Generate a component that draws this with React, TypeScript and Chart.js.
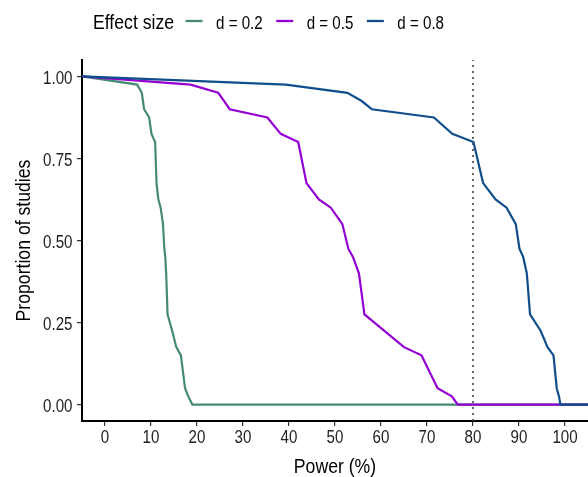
import React, { useEffect, useRef } from "react";
import { Chart, registerables } from "chart.js";

Chart.register(...registerables);

const seriesNames = ["d = 0.2", "d = 0.5", "d = 0.8"];
const seriesColors = ["#458B74", "#9400D3", "#104E8B"];

const greenX = [-5, 7, 8, 8.5, 9.6, 10.1, 10.9, 11.2, 11.6, 12.1, 12.6, 12.9, 13.1, 13.3, 13.6, 14.6, 15.5, 16.5, 17.4, 18.1, 19, 106];
const greenY = [1, 0.975, 0.95, 0.9, 0.875, 0.825, 0.8, 0.675, 0.625, 0.6, 0.55, 0.475, 0.45, 0.4, 0.275, 0.225, 0.175, 0.15, 0.05, 0.025, 0, 0];

const purpleX = [-5, 18.6, 24.6, 25.9, 27.1, 35.3, 38.2, 42, 43.8, 46.5, 49.1, 51.6, 52.9, 53.9, 55.2, 56.4, 65, 68.8, 72.3, 75.4, 76.7, 106];
const purpleY = [1, 0.975, 0.95, 0.925, 0.9, 0.875, 0.825, 0.8, 0.675, 0.625, 0.6, 0.55, 0.475, 0.45, 0.4, 0.275, 0.175, 0.15, 0.05, 0.025, 0, 0];

const blueX = [-5, 39.3, 52.7, 55.8, 58, 71.5, 75.5, 80.1, 82.2, 84.9, 87.3, 89.3, 90.1, 90.9, 91.7, 92.4, 94.7, 96.2, 97.5, 98.2, 98.7, 99, 106];
const blueY = [1, 0.975, 0.95, 0.925, 0.9, 0.875, 0.825, 0.8, 0.675, 0.625, 0.6, 0.55, 0.475, 0.45, 0.4, 0.275, 0.225, 0.175, 0.15, 0.05, 0.025, 0, 0];

const xTicks = [0, 10, 20, 30, 40, 50, 60, 70, 80, 90, 100];
const yTicks = [0, 0.25, 0.5, 0.75, 1];
const yTickLabels = ["0.00", "0.25", "0.50", "0.75", "1.00"];
const vlineX = 80;

const legendTitle = "Effect size";
const xTitle = "Power (%)";
const yTitle = "Proportion of studies";

const FONT = "'Liberation Sans', Arial, sans-serif";
const SQUEEZE = 0.84;

const zip = (xs: number[], ys: number[]) => xs.map((x, i) => ({ x, y: ys[i] }));

function squeezedText(ctx: any, text: string, x: number, y: number, align: string, rot = 0) {
  ctx.save();
  ctx.translate(x, y);
  if (rot) ctx.rotate(rot);
  ctx.scale(SQUEEZE, 1);
  ctx.textAlign = align;
  ctx.textBaseline = "alphabetic";
  ctx.fillText(text, 0, 0);
  ctx.restore();
}

const textPlugin = {
  id: "ggText",
  afterDraw(chart: any) {
    const ctx = chart.ctx;
    const xs = chart.scales.x;
    const ys = chart.scales.y;
    const area = chart.chartArea;
    ctx.save();
    // tick labels
    ctx.fillStyle = "#222";
    ctx.font = `18px ${FONT}`;
    xTicks.forEach((v) => {
      squeezedText(ctx, String(v), xs.getPixelForValue(v), area.bottom + 22, "center");
    });
    yTicks.forEach((v, i) => {
      squeezedText(ctx, yTickLabels[i], area.left - 9.5, ys.getPixelForValue(v) + 7.5, "right");
    });
    // axis titles
    ctx.fillStyle = "#000";
    ctx.font = `21px ${FONT}`;
    squeezedText(ctx, xTitle, (area.left + area.right) / 2, 473, "center");
    squeezedText(ctx, yTitle, 30, (area.top + area.bottom) / 2, "center", -Math.PI / 2);
    // legend
    let x = 93;
    const base = 29;
    squeezedText(ctx, legendTitle, x, base, "left");
    x += ctx.measureText(legendTitle).width * SQUEEZE + 11.5;
    ctx.font = `18px ${FONT}`;
    seriesNames.forEach((name, i) => {
      ctx.strokeStyle = seriesColors[i];
      ctx.lineWidth = 2.3;
      ctx.beginPath();
      ctx.moveTo(x, 21);
      ctx.lineTo(x + 17, 21);
      ctx.stroke();
      x += 17 + 13.5;
      squeezedText(ctx, name, x, base, "left");
      x += ctx.measureText(name).width * SQUEEZE + 13.5;
    });
    ctx.restore();
  },
};

export default function App() {
  const ref = useRef<HTMLCanvasElement>(null);
  useEffect(() => {
    document.body.style.margin = "0";
    const yMin = -0.05;
    const yMax = 1.05;
    const gridOpts = {
      display: true,
      drawOnChartArea: false,
      drawTicks: true,
      tickLength: 5,
      color: "#333",
      lineWidth: 1.2,
    };
    const chart = new Chart(ref.current!, {
      type: "line",
      data: {
        datasets: [
          {
            label: "vline",
            data: [{ x: vlineX, y: yMin }, { x: vlineX, y: yMax }],
            borderColor: "#444",
            borderWidth: 1.6,
            borderDash: [2, 4],
            pointRadius: 0,
            order: 0,
          },
          {
            label: seriesNames[2],
            data: zip(blueX, blueY),
            borderColor: seriesColors[2],
            borderWidth: 2.2,
            pointRadius: 0,
            tension: 0,
            order: 1,
          },
          {
            label: seriesNames[1],
            data: zip(purpleX, purpleY),
            borderColor: seriesColors[1],
            borderWidth: 2.2,
            pointRadius: 0,
            tension: 0,
            order: 2,
          },
          {
            label: seriesNames[0],
            data: zip(greenX, greenY),
            borderColor: seriesColors[0],
            borderWidth: 2.2,
            pointRadius: 0,
            tension: 0,
            order: 3,
          },
        ],
      },
      options: {
        responsive: false,
        animation: false,
        layout: { padding: { top: 60, left: 0, right: 0, bottom: 0 } },
        plugins: { legend: { display: false }, tooltip: { enabled: false } },
        scales: {
          x: {
            type: "linear",
            min: -5,
            max: 105,
            afterBuildTicks: (s: any) => {
              s.ticks = xTicks.map((v) => ({ value: v }));
            },
            afterFit: (s: any) => {
              s.height = 56;
            },
            ticks: { display: false },
            grid: gridOpts,
            border: { display: true, color: "#000", width: 2 },
            title: { display: false },
          },
          y: {
            type: "linear",
            min: yMin,
            max: yMax,
            afterBuildTicks: (s: any) => {
              s.ticks = yTicks.map((v) => ({ value: v }));
            },
            afterFit: (s: any) => {
              s.width = 82;
            },
            ticks: { display: false },
            grid: gridOpts,
            border: { display: true, color: "#000", width: 2 },
            title: { display: false },
          },
        },
      },
      plugins: [textPlugin],
    } as any);
    return () => chart.destroy();
  }, []);
  return (
    <div style={{ position: "absolute", left: 0, top: 0, width: 588, height: 477 }}>
      <canvas ref={ref} width={588} height={477} />
    </div>
  );
}
